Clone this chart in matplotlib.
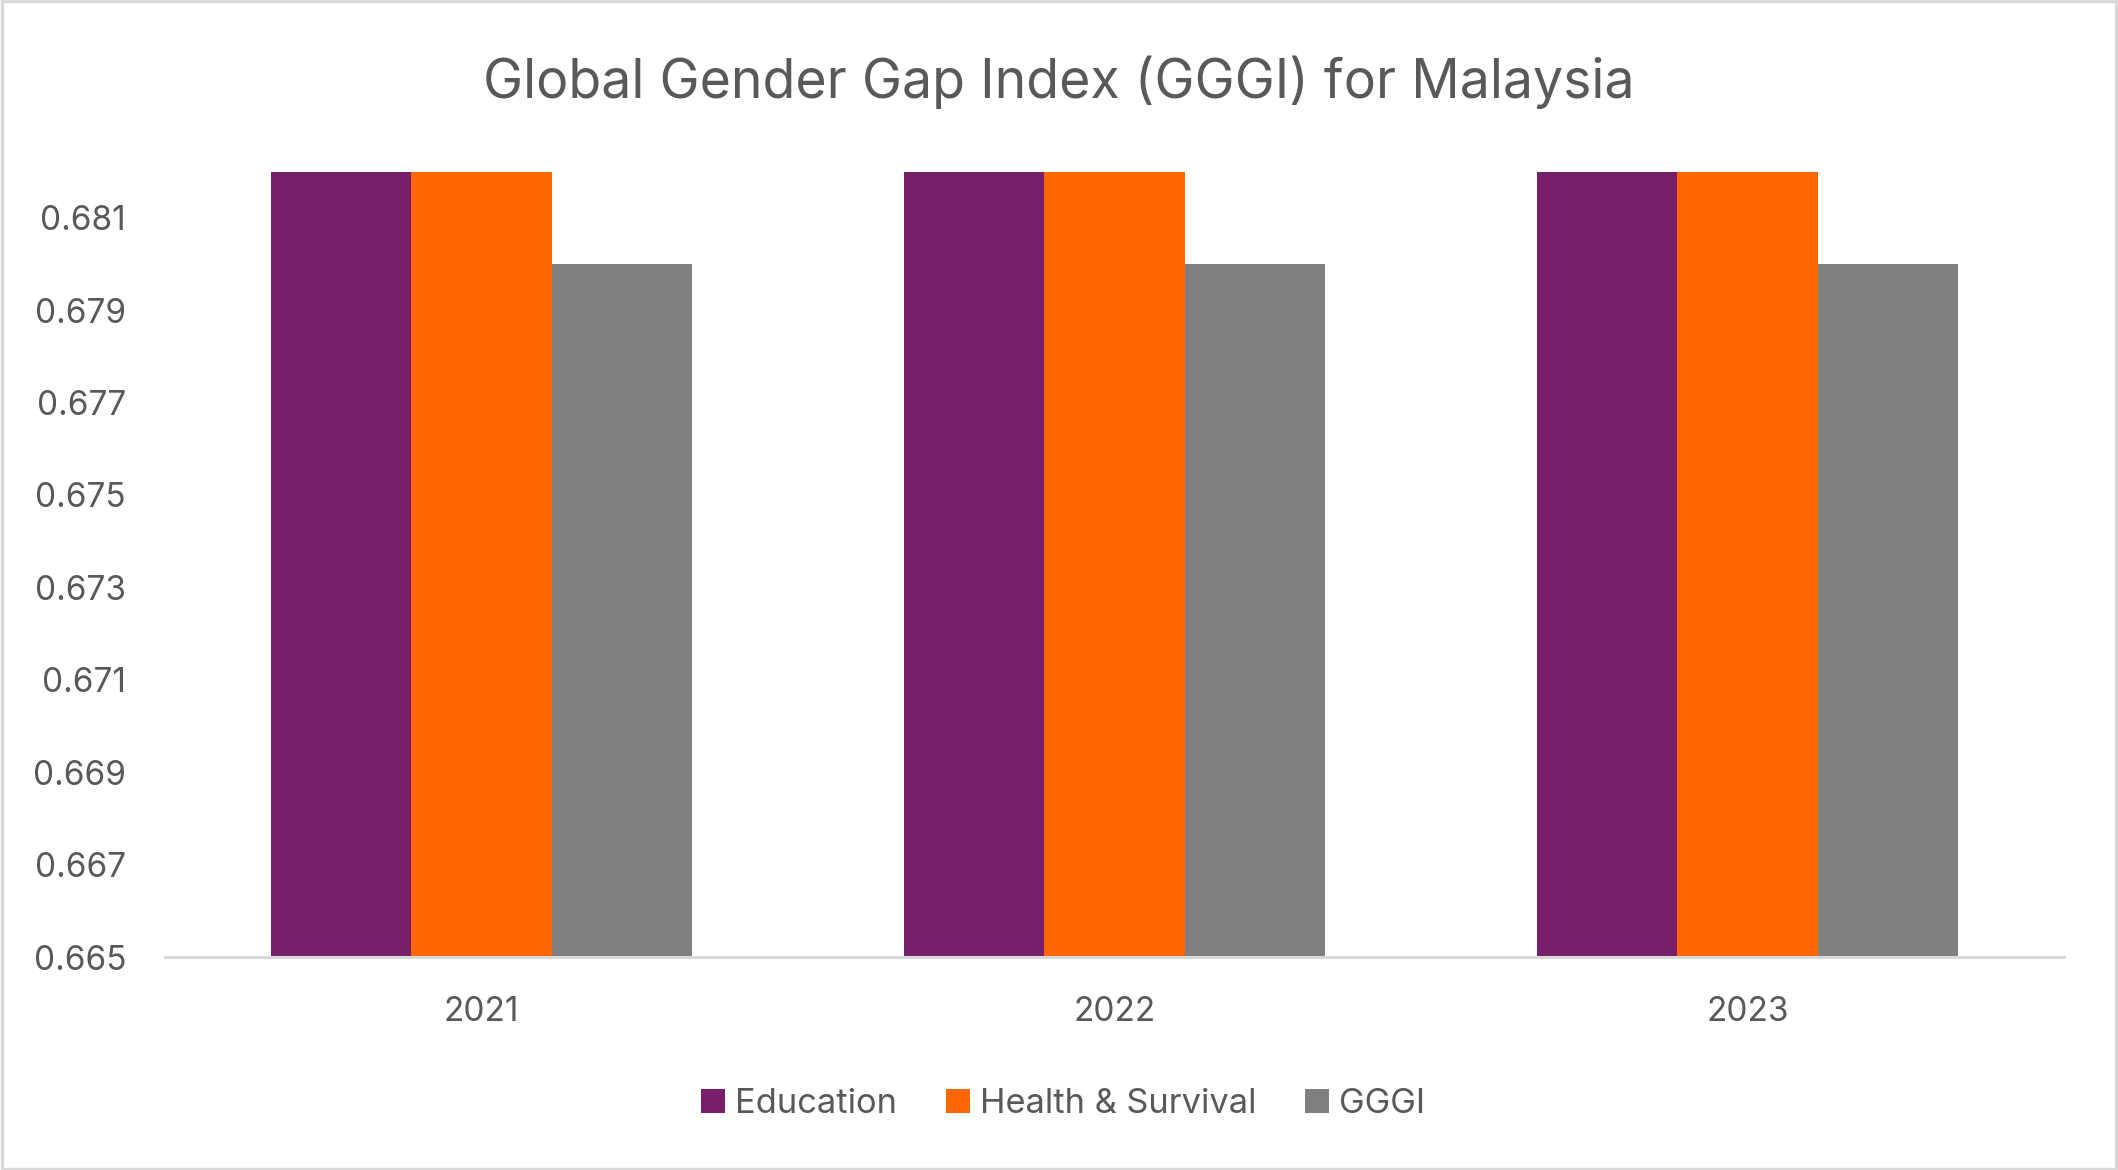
import matplotlib
matplotlib.use("Agg")
import matplotlib.pyplot as plt
import numpy as np

years = ["2021", "2022", "2023"]
series_names = ["Education", "Health & Survival", "GGGI"]
education = [0.682, 0.682, 0.682]
health = [0.682, 0.682, 0.682]
gggi = [0.680, 0.680, 0.680]
yticks = [0.665, 0.667, 0.669, 0.671, 0.673, 0.675, 0.677, 0.679, 0.681]
colors = ["#781F6B", "#FF6600", "#808080"]

plt.rcParams['font.family'] = ["Inter", "DejaVu Sans"]
txt = "#595959"

fig = plt.figure(figsize=(10.59, 5.85), dpi=200)
ax = fig.add_axes([0.0779, 0.182, 0.8966, 0.6714])

x = np.arange(len(years))
w = 0.222
for i, (vals, name) in enumerate(zip([education, health, gggi], series_names)):
    ax.bar(x + (i - 1) * w, vals, width=w, color=colors[i], label=name, zorder=2)

ax.set_xlim(-0.5, 2.5)
ax.set_ylim(0.665, 0.682)
ax.set_yticks(yticks)
ax.set_yticklabels([f"{v:.3f}" for v in yticks])
ax.set_xticks(x)
ax.set_xticklabels(years)
ax.tick_params(axis='both', length=0, labelsize=12, colors=txt)
ax.tick_params(axis='y', pad=14)
ax.tick_params(axis='x', pad=14)
for s in ["top", "right", "left"]:
    ax.spines[s].set_visible(False)
ax.spines["bottom"].set_color("#D9D9D9")
ax.spines["bottom"].set_linewidth(1.1)

fig.text(0.5, 0.930, "Global Gender Gap Index (GGGI) for Malaysia", ha="center", va="center",
         fontsize=19.3, color=txt)

leg = fig.legend(loc="center", bbox_to_anchor=(0.502, 0.056), ncol=3, frameon=False,
                 fontsize=12.4, handlelength=0.7, handleheight=0.7, handletextpad=0.3,
                 columnspacing=1.4, labelcolor=txt)

border = plt.Rectangle((0.001, 0.001), 0.998, 0.998, transform=fig.transFigure,
                       fill=False, edgecolor="#D9D9D9", linewidth=1.2)
fig.add_artist(border)

fig.savefig("out.png", dpi=200, facecolor="white")
